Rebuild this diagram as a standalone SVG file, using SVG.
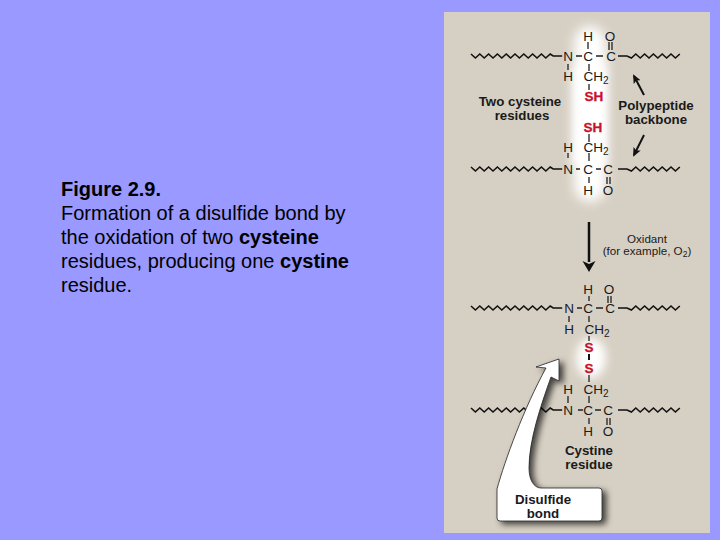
<svg xmlns="http://www.w3.org/2000/svg" width="720" height="540" viewBox="0 0 720 540">
<style>
text{font-family:"Liberation Sans",Arial,sans-serif}
.cap{font-size:20px;fill:#000}
.b{font-weight:bold}
.a{font-size:13.5px;fill:#1a1a1a;text-anchor:middle}
.l{font-size:13.3px;font-weight:bold;fill:#1a1a1a;text-anchor:middle}
.o{font-size:11.6px;fill:#1a1a1a;text-anchor:middle}
.r{font-size:13.5px;font-weight:bold;fill:#c8102e;text-anchor:middle;stroke:#c8102e;stroke-width:.3}
.z{fill:none;stroke:#111;stroke-width:1.6;stroke-linejoin:miter}
.bd{stroke:#222;stroke-width:1.3;fill:none}
.bk{stroke:#111;stroke-width:2;fill:none}
</style>
<defs>
<filter id="g1" x="-150%" y="-20%" width="400%" height="140%"><feGaussianBlur stdDeviation="6"/></filter>
<filter id="g2" x="-100%" y="-100%" width="300%" height="300%"><feGaussianBlur stdDeviation="5"/></filter>
<filter id="sh" x="-20%" y="-20%" width="140%" height="140%"><feDropShadow dx="4" dy="3" stdDeviation="3" flood-color="#000" flood-opacity=".7"/></filter>
<path id="zl" class="z" d="M471 -2l4.400 4 4.400-4 4.400 4 4.400-4 4.400 4 4.400-4 4.400 4 4.400-4 4.400 4 4.400-4 4.400 4 4.400-4 4.400 4 4.400-4 4.400 4 4.400-4 4.400 4 4.400-4 3 2h9"/>
<path id="zr" class="z" d="M618 0h9l4.400 2 4.400-4 4.400 4 4.400-4 4.400 4 4.400-4 4.400 4 4.400-4 4.400 4 4.400-4 4.400 4 4.400-4"/>
<marker id="ah" markerWidth="9" markerHeight="8" refX="7" refY="4" orient="auto" markerUnits="userSpaceOnUse"><path d="M0 0L9 4L0 8L2 4Z" fill="#111"/></marker>
</defs>
<rect width="720" height="540" fill="#9999ff"/>
<g id="caption">
<text class="cap" x="61" y="196"><tspan class="b">Figure 2.9.</tspan><tspan x="61" dy="24">Formation of a disulfide bond by</tspan><tspan x="61" dy="24">the oxidation of two </tspan><tspan class="b">cysteine</tspan><tspan x="61" dy="24">residues, producing one </tspan><tspan class="b">cystine</tspan><tspan x="61" dy="24">residue.</tspan></text>
</g>
<rect id="panel" x="444" y="12" width="266" height="521" fill="#d6cfc3"/>
<rect id="glow-top" x="574" y="26" width="32" height="176" rx="16" fill="#fff" filter="url(#g1)"/>
<rect id="glow-top-core" x="574" y="65" width="32" height="100" fill="#fff" filter="url(#g2)"/>
<ellipse id="glow-bottom" cx="591" cy="358" rx="15" ry="20" fill="#fff" filter="url(#g2)"/>
<g id="connectors">
<use href="#zl" y="56"/><use href="#zr" y="56"/>
<use href="#zl" y="169"/><use href="#zr" y="169"/>
<use href="#zl" y="308"/><use href="#zr" y="308"/>
<use href="#zl" y="410"/><use href="#zr" y="410"/>
<path class="bd" d="M588 42v7M576 56h6M596 56h7M609 42v8M612 42v8M568 64v6M589 64v7M589 84v6"/>
<path class="bd" d="M589 134v8M568 153v5M589 153v8M576 169h4M596 169h5M589 177v6M607 177v7M610 177v7"/>
<path class="bd" d="M589 296v5M608 296v7M611 296v7M577 308h5M596 308h7M569 316v6M589 316v6M589 336v5"/>
<path class="bk" d="M589 354v6"/>
<path class="bd" d="M589 375v7M568 396v7M589 396v7M578 410h5M595 410h6M589 418v6M607 418v7M610 418v7"/>
<path class="bk" d="M644 95L634 76" marker-end="url(#ah)"/>
<path class="bk" d="M644 135L634 155" marker-end="url(#ah)"/>
<path d="M589 222V262" stroke="#111" stroke-width="2.500"/>
<path d="M582.500 261L589 264L595.500 261L589 272Z" fill="#111"/>
</g>
<g id="n1">
<text class="a" x="588" y="41">H</text><text class="a" x="610" y="41">O</text>
<text class="a" x="568" y="61">N</text><text class="a" x="588" y="61">C</text><text class="a" x="611" y="61">C</text>
<text class="a" x="568" y="81">H</text>
<text class="a" x="596" y="81">CH<tspan font-size="10" dy="3">2</tspan></text>
<text class="r" x="594" y="101">SH</text>
</g>
<g id="n2">
<text class="r" x="593" y="132">SH</text>
<text class="a" x="568" y="152">H</text>
<text class="a" x="596" y="152">CH<tspan font-size="10" dy="3">2</tspan></text>
<text class="a" x="568" y="174">N</text><text class="a" x="588" y="174">C</text><text class="a" x="608" y="174">C</text>
<text class="a" x="588" y="195">H</text><text class="a" x="608" y="195">O</text>
</g>
<g id="n3">
<text class="a" x="588" y="294">H</text><text class="a" x="609" y="294">O</text>
<text class="a" x="569" y="313">N</text><text class="a" x="588" y="313">C</text><text class="a" x="610" y="313">C</text>
<text class="a" x="569" y="334">H</text>
<text class="a" x="597" y="334">CH<tspan font-size="10" dy="3">2</tspan></text>
<text class="r" x="589" y="352">S</text>
</g>
<g id="n4">
<text class="r" x="589" y="373">S</text>
<text class="a" x="568" y="394">H</text>
<text class="a" x="596" y="394">CH<tspan font-size="10" dy="3">2</tspan></text>
<text class="a" x="568" y="415">N</text><text class="a" x="588" y="415">C</text><text class="a" x="608" y="415">C</text>
<text class="a" x="588" y="436">H</text><text class="a" x="608" y="436">O</text>
</g>
<g id="labels">
<text class="l" x="520" y="106">Two cysteine</text><text class="l" x="522" y="120">residues</text>
<text class="l" x="656" y="109.500">Polypeptide</text><text class="l" x="656" y="124">backbone</text>
<text class="o" x="647" y="243">Oxidant</text>
<text class="o" x="647" y="255">(for example, O<tspan font-size="8.500" dy="2">2</tspan><tspan dy="-2">)</tspan></text>
<text class="l" x="589" y="454.500">Cystine</text><text class="l" x="589" y="469">residue</text>
</g>
<g id="callout">
<path d="M536 367L559 359V381L551 377C541 405 529 440 529 468C529 480 534 488 541 488H599Q602 488 602 491V518Q602 521 599 521H500Q497 521 497 518V489C505 460 524 408 546 368Z" fill="#fff" stroke="#222" stroke-width=".8" filter="url(#sh)"/>
<text class="l" x="543" y="503.500">Disulfide</text><text class="l" x="543" y="518">bond</text>
</g>
</svg>
